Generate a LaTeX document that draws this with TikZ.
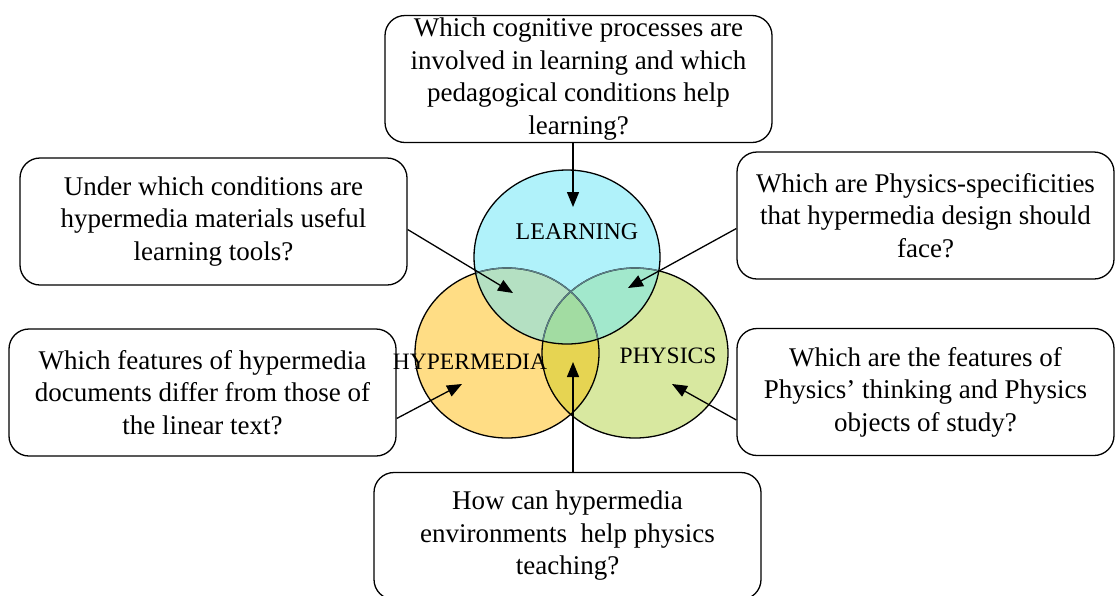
\documentclass[tikz,border=0pt]{standalone}
\usepackage{fontspec}
\setmainfont{Liberation Serif}
\usetikzlibrary{arrows.meta}

\definecolor{lrnfill}{HTML}{B0F2FA}
\definecolor{hypfill}{HTML}{FFDD85}
\definecolor{phyfill}{HTML}{D8E8A0}
\definecolor{lhfill}{HTML}{B4E0C2}
\definecolor{lpfill}{HTML}{A2E8CC}
\definecolor{hpfill}{HTML}{E6D452}
\definecolor{lhpfill}{HTML}{A2DCA2}
\definecolor{arcgrey}{HTML}{5C8088}

\newcommand\lrnshape{(567,257) ellipse [x radius=93, y radius=87]}
\newcommand\hypshape{(507,353) ellipse [x radius=92, y radius=85]}
\newcommand\physhape{(635,353) ellipse [x radius=93, y radius=85]}

\begin{document}
\begin{tikzpicture}[x=1pt, y=-1pt,
	question/.style={draw, rounded corners=20pt, line width=1.3pt, minimum width=387pt, minimum height=127pt, align=center, inner sep=0pt, font=\fontsize{27}{32.5}\selectfont},
	setname/.style={inner sep=0pt, font=\fontsize{24}{28}\selectfont},
	link/.style={-{Triangle[length=15pt, width=12pt]}, line width=1.3pt}]
	\useasboundingbox (0,0) rectangle (1115,595);
	\clip (0,0) rectangle (1115,595);
	% the three sets
	\fill[hypfill] \hypshape;
	\fill[phyfill] \physhape;
	\fill[lrnfill] \lrnshape;
	\begin{scope}
		\clip \hypshape;
		\fill[hpfill] \physhape;
	\end{scope}
	\begin{scope}
		\clip \lrnshape;
		\fill[lhfill] \hypshape;
		\fill[lpfill] \physhape;
		\clip \hypshape;
		\fill[lhpfill] \physhape;
	\end{scope}
	\draw[line width=1.3pt] \hypshape;
	\draw[line width=1.3pt] \physhape;
	\begin{scope}
		\clip \lrnshape;
		\draw[arcgrey, line width=1.3pt] \hypshape;
		\draw[arcgrey, line width=1.3pt] \physhape;
	\end{scope}
	\draw[line width=1.3pt] \lrnshape;
	\node[setname] (lrn) at (577,232) {LEARNING};
	\node[setname, font=\fontsize{23.5}{28}\selectfont] (hyp) at (470,362) {HYPERMEDIA};
	\node[setname, font=\fontsize{23.5}{28}\selectfont] (phy) at (668,356) {PHYSICS};
	% questions
	\node[question] (t) at (578.5,79) {Which cognitive processes are\\involved in learning and which\\pedagogical conditions help\\learning?};
	\node[question] (lu) at (213.5,221.5) {Under which conditions are\\hypermedia materials useful\\learning tools?};
	\node[question] (ll) at (202.5,392.5) {Which features of hypermedia\\documents differ from those of\\the linear text?};
	\node[question, minimum width=377pt] (ru) at (925.5,215.5) {Which are Physics-specificities\\that hypermedia design should\\face?};
	\node[question, minimum width=377pt] (rl) at (925.5,392) {Which are the features of\\Physics' thinking and Physics\\objects of study?};
	\node[question] (b) at (567.5,536) {How can hypermedia\\environments\ \ help physics\\teaching?};
	% arrow tips inside the sets
	\coordinate (lrntip) at (573,207);
	\coordinate (lhtip) at (513,293);
	\coordinate (lptip) at (628,288);
	\coordinate (hyptip) at (462,384);
	\coordinate (phytip) at (672,384);
	\coordinate (lhptip) at (573,362);
	\draw[link] (lrntip |- t.south) -- (lrntip);
	\draw[link] ([yshift=-8pt]lu.east) -- (lhtip);
	\draw[link] ([yshift=-13pt]ru.west) -- (lptip);
	\draw[link] ([yshift=-26pt]ll.east) -- (hyptip);
	\draw[link] ([yshift=-28pt]rl.west) -- (phytip);
	\draw[link] (lhptip |- b.north) -- (lhptip);
\end{tikzpicture}
\end{document}
